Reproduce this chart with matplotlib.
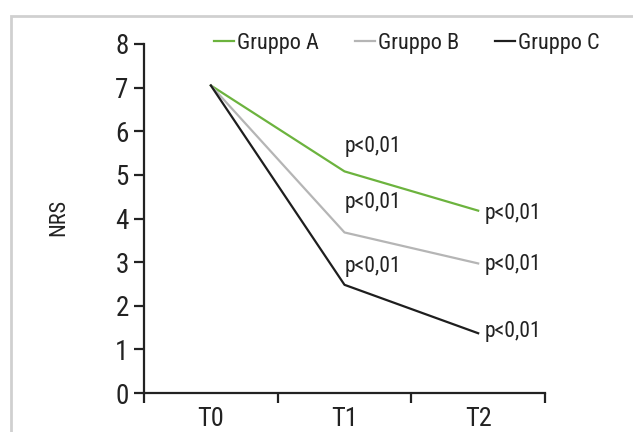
import matplotlib.pyplot as plt
from matplotlib.patches import Rectangle

# Data
times = ["T0", "T1", "T2"]
gruppo_a = [7.05, 5.08, 4.18]
gruppo_b = [7.05, 3.68, 2.97]
gruppo_c = [7.05, 2.48, 1.37]
series = [("Gruppo A", gruppo_a, "#6cb33e"),
          ("Gruppo B", gruppo_b, "#b5b5b5"),
          ("Gruppo C", gruppo_c, "#1e1e1e")]
# p-value labels: (time index, y position, text)
p_labels = [(1, 5.65, "p<0,01"), (1, 4.37, "p<0,01"), (1, 2.9, "p<0,01"),
            (2, 4.12, "p<0,01"), (2, 2.95, "p<0,01"), (2, 1.4, "p<0,01")]

plt.rcParams["font.family"] = ["Roboto Condensed", "Archivo Narrow", "DejaVu Sans"]
ink = "#222222"

fig = plt.figure(figsize=(6.33, 4.32), dpi=100)
ax = fig.add_axes([144 / 633, 1 - 393 / 432, 401 / 633, 349 / 432])

x = [i + 0.5 for i in range(len(times))]
for name, vals, col in series:
    ax.plot(x, vals, color=col, lw=1.6, label=name)

for i, y, txt in p_labels:
    ax.text(x[i] + 0.05 * (i == 2), y, txt, fontsize=15.5, va="center",
            ha="left", color=ink)

ax.set_xlim(0, 3)
ax.set_ylim(0, 8)
ax.set_yticks(range(9))
ax.set_xticks(x)
ax.set_xticklabels(times)
ax.set_xticks([0, 1, 2, 3], minor=True)
ax.tick_params(axis="x", which="major", length=0, labelsize=19, pad=10,
               colors=ink)
ax.tick_params(axis="x", which="minor", length=7.5, width=1.6, direction="out",
               color=ink)
ax.tick_params(axis="y", length=7, width=1.6, direction="out", labelsize=19.5,
               pad=4, colors=ink)
for s in ["top", "right"]:
    ax.spines[s].set_visible(False)
for s in ["left", "bottom"]:
    ax.spines[s].set_linewidth(1.6)
    ax.spines[s].set_color(ink)

fig.text(59 / 633, 1 - 217 / 432, "NRS", rotation=90, fontsize=16,
         ha="center", va="center", color=ink)

fig.legend(loc="center left", bbox_to_anchor=(203 / 633, 1 - 43 / 432),
           ncol=3, frameon=False, fontsize=16, handlelength=0.9,
           handletextpad=0.15, columnspacing=1.6, borderpad=0,
           labelcolor=ink)

fig.patches.append(Rectangle((11 / 633, -0.1), 1.2, 1 - 16 / 432 + 0.1,
                             transform=fig.transFigure, fill=False,
                             edgecolor="#d0d0d0", lw=2))

fig.savefig("out.png", dpi=100)
